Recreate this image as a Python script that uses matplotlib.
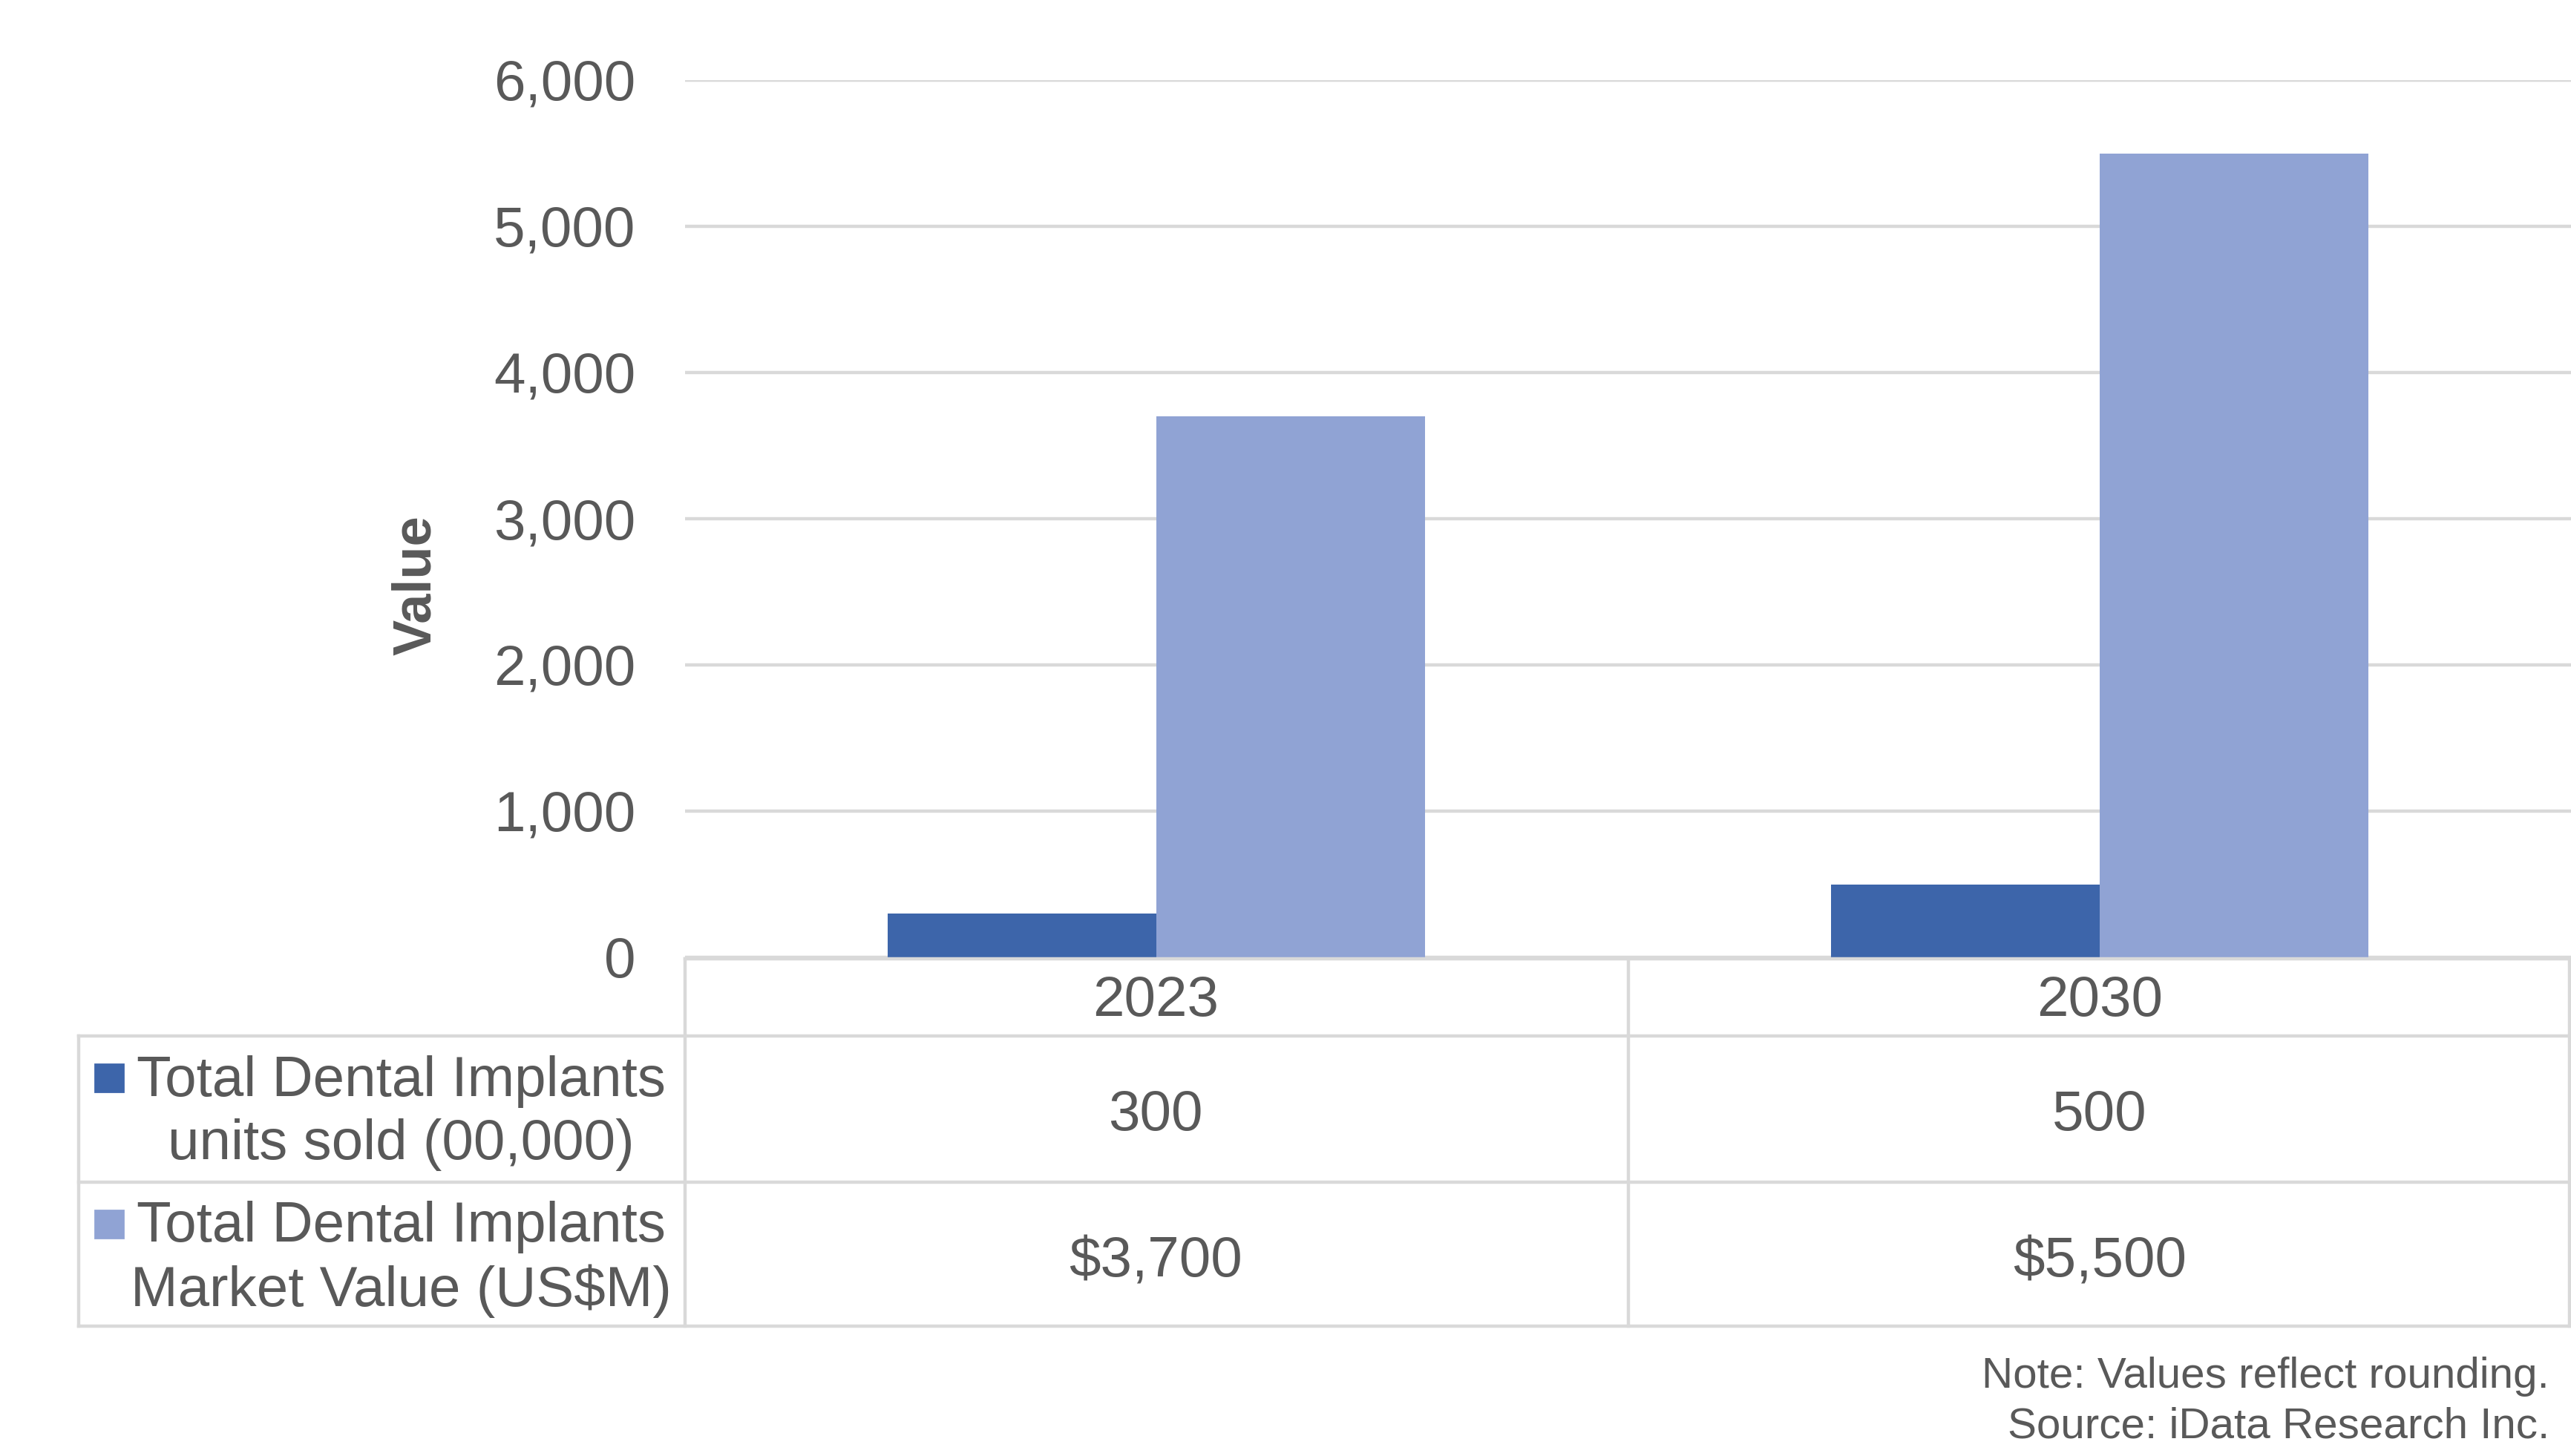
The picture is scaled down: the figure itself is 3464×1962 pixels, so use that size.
import matplotlib
matplotlib.use("Agg")
import matplotlib.pyplot as plt
from matplotlib.patches import Rectangle
from matplotlib.ticker import FuncFormatter

# data
years = ["2023", "2030"]
units_sold = [300, 500]
market_value = [3700, 5500]
series_labels = ["Total Dental Implants\nunits sold (00,000)",
                 "Total Dental Implants\nMarket Value (US$M)"]
y_ticks = [0, 1000, 2000, 3000, 4000, 5000, 6000]

DARK = "#3D65AA"
LIGHT = "#90A3D4"
TEXT = "#595959"
GRID = "#D9D9D9"

W, H = 3464, 1962
DPI = 200
plt.rcParams["font.family"] = ["Liberation Sans", "DejaVu Sans"]

fig = plt.figure(figsize=(W / DPI, H / DPI), dpi=DPI)


def fig_box(x0, y0, x1, y1):
    # pixel box (top-left origin) -> figure fraction rect
    return [x0 / W, 1 - y1 / H, (x1 - x0) / W, (y1 - y0) / H]


# main bar chart
ax = fig.add_axes(fig_box(923, 108, 3464, 1290))
bw = 0.285
xs = range(len(years))
ax.bar([x - bw / 2 for x in xs], units_sold, width=bw, color=DARK, zorder=3)
ax.bar([x + bw / 2 for x in xs], market_value, width=bw, color=LIGHT, zorder=3)
ax.set_xlim(-0.5, len(years) - 0.5)
ax.set_ylim(0, 6000)
ax.set_yticks(y_ticks)
ax.yaxis.set_major_formatter(FuncFormatter(lambda v, p: f"{int(v):,}"))
ax.tick_params(axis="y", length=0, pad=24, labelsize=27.5, labelcolor=TEXT)
ax.set_xticks([])
ax.grid(axis="y", color=GRID, linewidth=1.6, zorder=0)
for s in ax.spines.values():
    s.set_visible(False)
ax.set_ylabel("Value", fontsize=26, fontweight="bold", color=TEXT, labelpad=0)
ax.yaxis.set_label_coords((595 - 923) / (3464 - 923), (1290 - 789) / 1182)

# data table underneath, drawn in pixel coordinates
tb = fig.add_axes(fig_box(104, 1290, 3464, 1789))
tb.set_xlim(104, 3464)
tb.set_ylim(1789, 1290)
tb.axis("off")
lw = 1.6
kw = dict(color=GRID, linewidth=lw, clip_on=False, solid_capstyle="projecting")
tb.plot([923, 3462], [1292, 1292], **kw)
for y in [1396, 1593, 1787]:
    tb.plot([106, 3462], [y, y], **kw)
tb.plot([106, 106], [1396, 1787], **kw)
for x in [923, 2194, 3462]:
    tb.plot([x, x], [1292, 1787], **kw)

col_centers = [1557, 2829]
for i, yr in enumerate(years):
    c = col_centers[i]
    tb.text(c, 1349, yr, ha="center", va="center", fontsize=27.5, color=TEXT)
    tb.text(c, 1503, f"{units_sold[i]:,}", ha="center", va="center",
            fontsize=27.5, color=TEXT)
    tb.text(c, 1701, f"${market_value[i]:,}", ha="center", va="center",
            fontsize=27.5, color=TEXT)

row_mid = [1494, 1691]
for lab, col, ym in zip(series_labels, [DARK, LIGHT], row_mid):
    tb.add_patch(Rectangle((128, ym - 60), 38, 37, color=col, clip_on=False))
    tb.text(540, ym + 6, lab, ha="center", va="center", multialignment="center",
            fontsize=27.5, color=TEXT, linespacing=1.24)

fig.text(3435 / W, 1 - 1855 / H, "Note: Values reflect rounding.",
         ha="right", va="center", fontsize=21, color=TEXT)
fig.text(3435 / W, 1 - 1922 / H, "Source: iData Research Inc.",
         ha="right", va="center", fontsize=21, color=TEXT)

fig.savefig("out.png", dpi=DPI, facecolor="white")
